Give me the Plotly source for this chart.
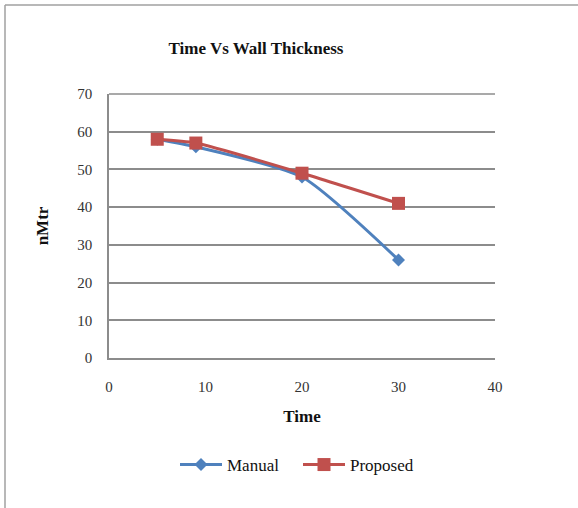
import plotly.graph_objects as go

# Series data
time_manual = [5, 9, 20, 30]
wall_manual = [58, 56, 48, 26]
time_proposed = [5, 9, 20, 30]
wall_proposed = [58, 57, 49, 41]

x_ticks = [0, 10, 20, 30, 40]
y_ticks = [0, 10, 20, 30, 40, 50, 60, 70]

W, H = 578, 508
L, R, T, B = 109, 495, 94, 358  # plot area in pixels

def px_to_paper_x(px):
    return (px - L) / (R - L)

def px_to_paper_y(py):
    return (B - py) / (B - T)

serif = "Liberation Serif, Times New Roman, serif"

fig = go.Figure()
fig.add_trace(go.Scatter(
    x=time_manual, y=wall_manual, name="Manual", mode="lines+markers",
    line=dict(color="#4F81BD", width=3, shape="spline", smoothing=0.6),
    marker=dict(symbol="diamond", size=10, color="#4F81BD"),
))
fig.add_trace(go.Scatter(
    x=time_proposed, y=wall_proposed, name="Proposed", mode="lines+markers",
    line=dict(color="#C0504D", width=3, shape="spline", smoothing=0.6),
    marker=dict(symbol="square", size=13, color="#C0504D"),
))

grid = "#8c8c8c"
fig.update_layout(
    width=W, height=H,
    margin=dict(l=L, r=W - R, t=T, b=H - B),
    paper_bgcolor="white", plot_bgcolor="white",
    font=dict(family=serif, size=15, color="#333333"),
    title=dict(text="<b>Time Vs Wall Thickness</b>", x=256 / W, xref="container",
               xanchor="center", y=1 - 48 / H, yref="container", yanchor="middle",
               font=dict(family=serif, size=17, color="#111111")),
    xaxis=dict(range=[0, 40], tickvals=x_ticks, showgrid=False, zeroline=False,
               showline=True, linecolor=grid, linewidth=1.5,
               ticks="", ticklabelstandoff=14,
               title=dict(text="<b>Time</b>", standoff=16,
                          font=dict(family=serif, size=17, color="#111111"))),
    yaxis=dict(range=[0, 70], tickvals=y_ticks, showgrid=True, gridcolor=grid,
               gridwidth=1.5, zeroline=False, showline=True, linecolor=grid,
               linewidth=1.5, ticks="", ticklabelstandoff=12,
               title=dict(text="<b>nMtr</b>", standoff=24,
                          font=dict(family=serif, size=17, color="#111111"))),
    legend=dict(orientation="h", x=175 / W, xref="container", xanchor="left",
                y=1 - 465 / H, yref="container", yanchor="middle",
                font=dict(family=serif, size=17, color="#111111"),
                itemwidth=42, entrywidth=66, tracegroupgap=0),
    showlegend=True,
)

# Top gridline at 70 and chart frame
fig.add_shape(type="line", xref="paper", yref="paper", x0=0, x1=1, y0=1, y1=1,
              line=dict(color=grid, width=1.5))
fig.add_shape(type="line", xref="paper", yref="paper",
              x0=px_to_paper_x(5), x1=px_to_paper_x(5),
              y0=px_to_paper_y(5), y1=px_to_paper_y(H),
              line=dict(color="#a0a0a0", width=1.5))
fig.add_shape(type="line", xref="paper", yref="paper",
              x0=px_to_paper_x(5), x1=px_to_paper_x(W),
              y0=px_to_paper_y(5), y1=px_to_paper_y(5),
              line=dict(color="#a0a0a0", width=1.5))

fig.write_html("out.html")
